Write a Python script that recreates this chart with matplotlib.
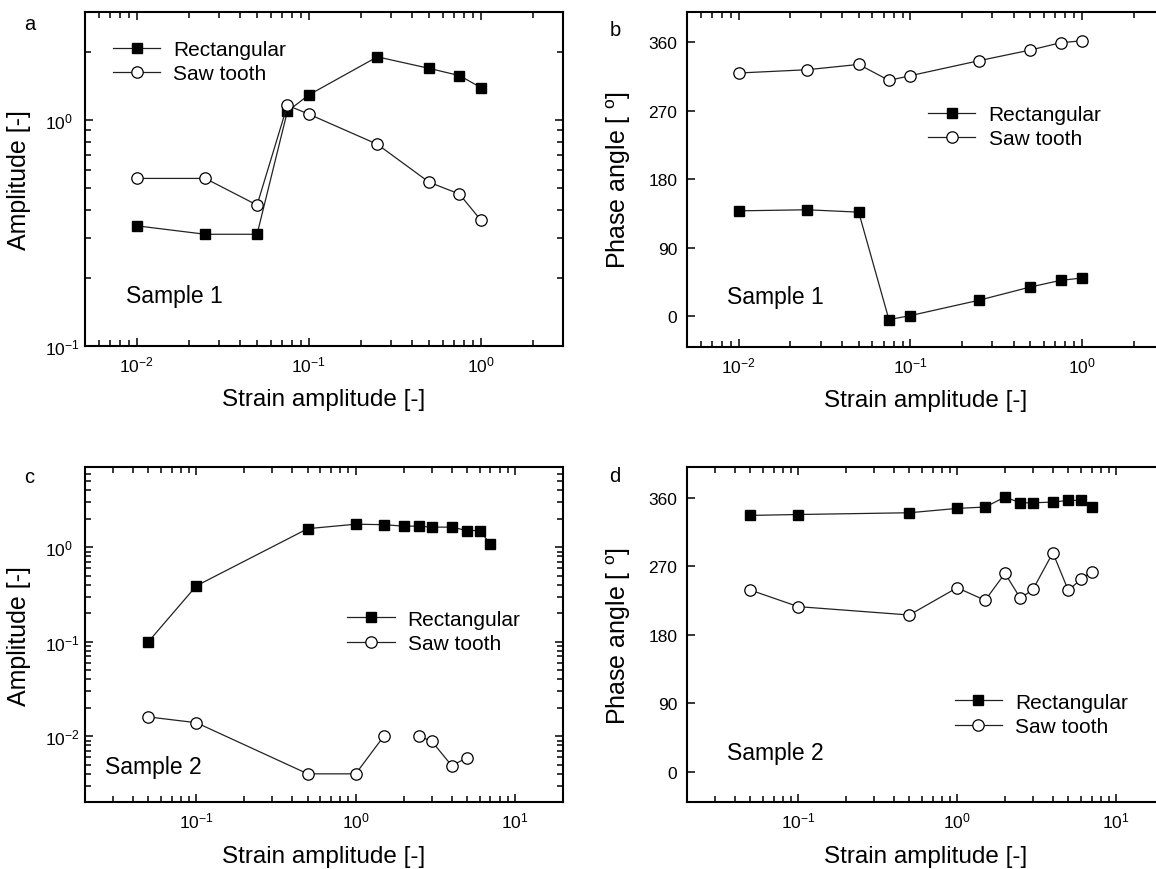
import numpy as np
import matplotlib
matplotlib.use('Agg')
import matplotlib.pyplot as plt
from matplotlib.ticker import NullFormatter

plt.rcParams['font.family'] = ['Liberation Sans', 'DejaVu Sans']
plt.rcParams['mathtext.fontset'] = 'custom'
plt.rcParams['mathtext.rm'] = 'Liberation Sans'
plt.rcParams['mathtext.it'] = 'Liberation Sans:italic'
plt.rcParams['mathtext.bf'] = 'Liberation Sans:bold'

nan = np.nan

# Sample 1
strain_1 = [0.01, 0.025, 0.05, 0.075, 0.1, 0.25, 0.5, 0.75, 1.0]
amp_rect_1 = [0.34, 0.312, 0.312, 1.09, 1.29, 1.90, 1.69, 1.57, 1.39]
amp_saw_1 = [0.551, 0.551, 0.42, 1.16, 1.06, 0.78, 0.53, 0.47, 0.36]
phase_rect_1 = [138.6, 140.0, 136.9, -4.4, 0.9, 21.0, 38.5, 47.2, 50.3]
phase_saw_1 = [319.8, 324.1, 331.1, 310.1, 316.3, 335.9, 350.0, 359.6, 362.2]

# Sample 2 (saw tooth amplitude missing at 2, 6 and 7)
strain_2 = [0.05, 0.1, 0.5, 1.0, 1.5, 2.0, 2.5, 3.0, 4.0, 5.0, 6.0, 7.0]
amp_rect_2 = [0.10, 0.39, 1.57, 1.75, 1.73, 1.67, 1.67, 1.63, 1.63, 1.50, 1.50, 1.08]
amp_saw_2 = [0.016, 0.0139, 0.004, 0.004, 0.010, nan, 0.010, 0.00885, 0.0049, 0.00589, nan, nan]
phase_rect_2 = [336.8, 338.0, 340.3, 346.0, 347.8, 360.9, 353.4, 353.4, 354.3, 356.5, 356.5, 348.2]
phase_saw_2 = [238.8, 217.0, 206.0, 241.8, 225.3, 260.7, 227.9, 239.7, 287.8, 238.4, 252.8, 262.9]

phase_ticks = [0, 90, 180, 270, 360]
series_names = ['Rectangular', 'Saw tooth']
panel_letters = ['a', 'b', 'c', 'd']
sample_names = ['Sample 1', 'Sample 1', 'Sample 2', 'Sample 2']

W, H = 1156, 870
fig = plt.figure(figsize=(W / 100, H / 100), dpi=100)


def px_axes(left, right, top, bottom):
    '''axes rectangle from pixel edges'''
    return fig.add_axes([left / W, 1 - bottom / H, (right - left) / W, (bottom - top) / H])


def draw(ax, x, y_rect, y_saw):
    ax.plot(x, y_rect, color='#222222', lw=0.9, marker='s', ms=7.6,
            mfc='black', mec='black', label=series_names[0])
    ax.plot(x, y_saw, color='#222222', lw=0.9, marker='o', ms=8.2,
            mfc='white', mec='black', mew=0.9, label=series_names[1])


def style(ax, log_y):
    ax.set_xscale('log')
    ax.xaxis.set_minor_formatter(NullFormatter())
    ax.tick_params(which='both', direction='in', top=True, right=True, width=1.1,
                   labelsize=12.5)
    ax.tick_params(which='major', length=6)
    ax.tick_params(which='minor', length=4)
    ax.tick_params(axis='x', which='both', pad=6)
    for s in ax.spines.values():
        s.set_linewidth(1.5)
    if log_y:
        ax.set_yscale('log')
        ax.yaxis.set_minor_formatter(NullFormatter())
        ax.tick_params(axis='y', which='both', pad=29)
    else:
        ax.set_yticks(phase_ticks)
        ax.tick_params(axis='y', which='both', pad=7)
    ax.xaxis.set_label_coords(0.5, -0.127)
    ax.yaxis.set_label_coords(-0.113, 0.5)


axes = [px_axes(85, 563, 13, 347), px_axes(687, 1164, 13, 347.7),
        px_axes(85, 563, 468.3, 803.3), px_axes(687, 1164, 468.3, 803.3)]
ax_a, ax_b, ax_c, ax_d = axes

draw(ax_a, strain_1, amp_rect_1, amp_saw_1)
style(ax_a, True)
ax_a.set_xlim(0.005, 3)
ax_a.set_ylim(0.1, 3)
ax_a.set_ylabel('Amplitude [-]', fontsize=18)

draw(ax_b, strain_1, phase_rect_1, phase_saw_1)
style(ax_b, False)
ax_b.set_xlim(0.005, 3)
ax_b.set_ylim(-40, 400)
ax_b.set_ylabel('Phase angle [ $^{\\mathrm{o}}$]', fontsize=18)

draw(ax_c, strain_2, amp_rect_2, amp_saw_2)
style(ax_c, True)
ax_c.set_xlim(0.02, 20)
ax_c.set_ylim(0.002, 7)
ax_c.set_ylabel('Amplitude [-]', fontsize=18)

draw(ax_d, strain_2, phase_rect_2, phase_saw_2)
style(ax_d, False)
ax_d.set_xlim(0.02, 20)
ax_d.set_ylim(-40, 400)
ax_d.set_ylabel('Phase angle [ $^{\\mathrm{o}}$]', fontsize=18)

legend_pos = [(0.0586, 0.916), (0.506, 0.7215), (0.549, 0.575), (0.561, 0.327)]
sample_pos = [(0.086, 0.15), (0.083, 0.149), (0.041, 0.106), (0.083, 0.149)]
letter_pos = [(30, 25), (615, 30), (29, 478), (615, 477)]

for i, ax in enumerate(axes):
    ax.set_xlabel('Strain amplitude [-]', fontsize=17.5)
    if i in (0, 2):
        for lab in ax.get_yticklabels():
            lab.set_horizontalalignment('left')
    ax.legend(loc='upper left', bbox_to_anchor=legend_pos[i], frameon=False,
              fontsize=15, handlelength=2.26, handletextpad=0.63, labelspacing=0.25,
              borderpad=0, borderaxespad=0, numpoints=1)
    ax.text(sample_pos[i][0], sample_pos[i][1], sample_names[i], transform=ax.transAxes,
            fontsize=16.5, ha='left', va='center')
    fig.text(letter_pos[i][0] / W, 1 - letter_pos[i][1] / H, panel_letters[i],
             fontsize=14.5, ha='center', va='center')

fig.savefig('out.png', dpi=100)
